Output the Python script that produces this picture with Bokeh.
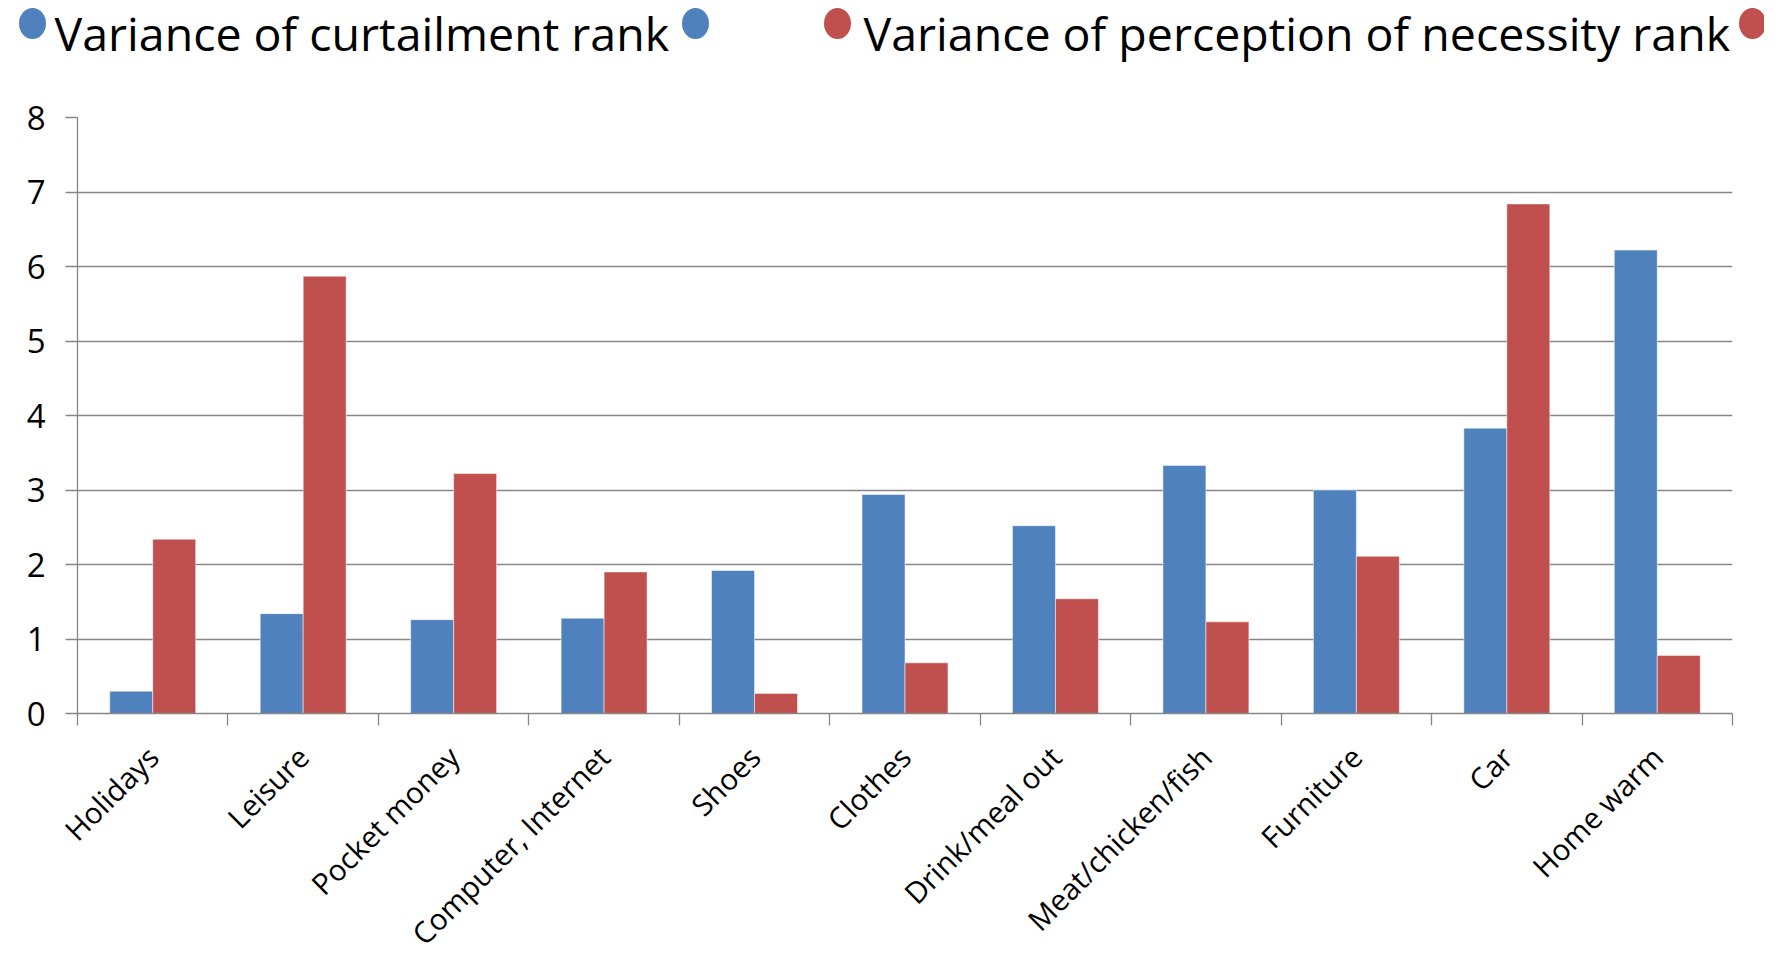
import math
from bokeh.plotting import figure
from bokeh.layouts import column
from bokeh.models import ColumnDataSource, Range1d, FixedTicker
from bokeh.transform import dodge
from bokeh.core.properties import value
from bokeh.embed import file_html
from bokeh.resources import INLINE

categories = ["Holidays", "Leisure", "Pocket money", "Computer, Internet", "Shoes",
              "Clothes", "Drink/meal out", "Meat/chicken/fish", "Furniture", "Car", "Home warm"]
curtailment = [0.30, 1.34, 1.26, 1.28, 1.92, 2.94, 2.52, 3.33, 3.00, 3.83, 6.22]
necessity = [2.34, 5.87, 3.22, 1.90, 0.27, 0.68, 1.54, 1.23, 2.11, 6.84, 0.78]
series_names = ["Variance of curtailment rank", "Variance of perception of necessity rank"]
y_ticks = [0, 1, 2, 3, 4, 5, 6, 7, 8]

BLUE = "#4F81BD"
RED = "#C0504D"
GRID = "#868686"
FONT = "Open Sans"

W = 1764
LEG_H = 90
MAIN_H = 880

# ---------------- legend strip ----------------
leg = figure(width=W, height=LEG_H, x_range=Range1d(0, W), y_range=Range1d(0, LEG_H),
             x_axis_type=None, y_axis_type=None, toolbar_location=None,
             output_backend="svg", min_border=0, frame_align=False)
leg.outline_line_color = None
leg.grid.visible = False
leg_src = ColumnDataSource(dict(
    mx=[32, 695, 837, 1752], my=[67, 67, 67, 67], c=[BLUE, BLUE, RED, RED]))
leg.ellipse(x="mx", y="my", width=27, height=31, width_units="screen",
            height_units="screen", fill_color="c", line_color=None, source=leg_src)
leg.text(x=[54, 863], y=[58, 58], text=series_names, text_font=value(FONT),
         text_font_size="46.5px", text_color="black", text_baseline="alphabetic")

# ---------------- main chart ----------------
n = len(categories)
xc = [i + 0.5 for i in range(n)]
src = ColumnDataSource(dict(x=xc, cur=curtailment, nec=necessity))

p = figure(width=W, height=MAIN_H, x_range=Range1d(0, n), y_range=Range1d(0, 8),
           toolbar_location=None, output_backend="svg",
           min_border_left=77, min_border_right=32, min_border_top=27,
           min_border_bottom=256, frame_align=False)
p.outline_line_color = None
bw = 1 / 3.5
p.vbar(x=dodge("x", -bw / 2), top="cur", width=bw, source=src,
       fill_color=BLUE, line_color="white", line_alpha=0.5, line_width=1)
p.vbar(x=dodge("x", bw / 2), top="nec", width=bw, source=src,
       fill_color=RED, line_color="white", line_alpha=0.5, line_width=1)

p.xgrid.visible = False
p.ygrid.grid_line_color = GRID
p.ygrid.grid_line_width = 1.3
p.ygrid.ticker = FixedTicker(ticks=y_ticks)

p.yaxis.ticker = FixedTicker(ticks=y_ticks)
p.yaxis.axis_line_color = GRID
p.yaxis.axis_line_width = 1.3
p.yaxis.major_tick_line_color = GRID
p.yaxis.major_tick_line_width = 1.3
p.yaxis.major_tick_out = 12
p.yaxis.major_tick_in = 0
p.yaxis.minor_tick_line_color = None
p.yaxis.major_label_standoff = 20
p.yaxis.major_label_text_font = FONT
p.yaxis.major_label_text_font_size = "33px"
p.yaxis.major_label_text_color = "black"

p.xaxis.ticker = FixedTicker(ticks=xc, minor_ticks=list(range(n + 1)))
p.xaxis.major_label_overrides = {x: c for x, c in zip(xc, categories)}
p.xaxis.axis_line_color = GRID
p.xaxis.axis_line_width = 1.3
p.xaxis.major_tick_line_color = None
p.xaxis.major_tick_out = 0
p.xaxis.major_tick_in = 0
p.xaxis.minor_tick_line_color = GRID
p.xaxis.minor_tick_line_width = 1.3
p.xaxis.minor_tick_out = 12
p.xaxis.minor_tick_in = 0
p.xaxis.major_label_orientation = math.pi / 4
p.xaxis.major_label_standoff = 26
p.xaxis.major_label_text_font = FONT
p.xaxis.major_label_text_font_size = "29.5px"
p.xaxis.major_label_text_color = "black"

layout = column(leg, p, spacing=0)
open("out.html", "w").write(file_html(layout, INLINE))
